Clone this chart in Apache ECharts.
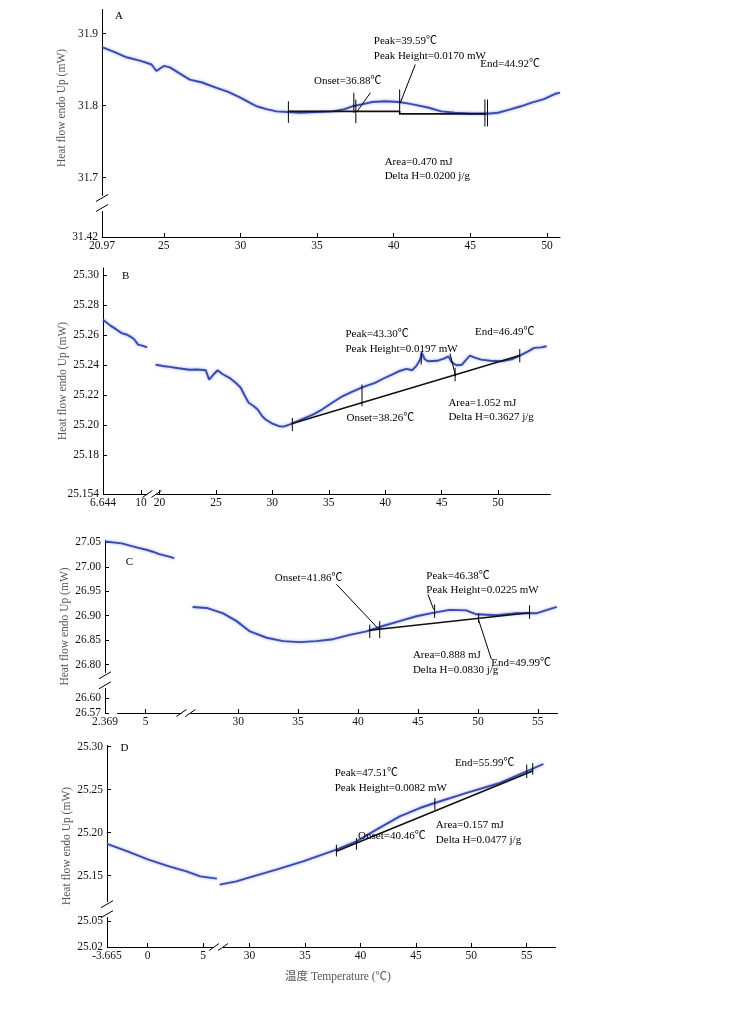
<!DOCTYPE html>
<html><head><meta charset="utf-8">
<script src="https://cdn.jsdelivr.net/npm/echarts@6/dist/echarts.min.js"></script>
<style>html,body{margin:0;padding:0;background:#fff}#c{width:756px;height:1010px}</style>
</head><body><div id="c"></div>
<script>
// ---------------- Panel A ----------------
const aTemp = [20.97,21.8,22.57,23.5,24.2,24.52,25.0,25.4,26.0,26.7,27.5,28.4,29.2,30.0,30.6,31.05,31.7,32.35,33.1,33.9,35.0,36.0,36.8,37.3,38.0,38.6,39.5,40.3,40.9,41.4,42.3,43.1,44.0,45.0,45.7,46.3,46.8,47.5,48.3,49.0,49.8,50.5,50.85];
const aHF = [31.881,31.874,31.867,31.862,31.857,31.848,31.855,31.853,31.845,31.836,31.832,31.825,31.819,31.811,31.804,31.799,31.795,31.792,31.791,31.790,31.791,31.792,31.795,31.799,31.802,31.805,31.806,31.805,31.803,31.801,31.797,31.792,31.790,31.789,31.789,31.789,31.790,31.794,31.799,31.804,31.809,31.816,31.818];
const aBaseline = [[33.13,31.792],[40.39,31.792],[40.39,31.7885],[46.05,31.7885]];
const aSegs = [[[33.13,31.806],[33.13,31.776]],[[37.40,31.8178],[37.40,31.7898]],[[37.53,31.8084],[37.53,31.7758]],[[40.39,31.8224],[40.39,31.7874]],[[45.95,31.8084],[45.95,31.771]],[[46.12,31.8084],[46.12,31.771]],[[38.48,31.8178],[37.62,31.792]],[[41.41,31.857],[40.43,31.8038]]];
const aNotes = [['A',21.81,31.924],['Peak=39.59\u2103',38.70,31.8895],['Peak Height=0.0170 mW',38.70,31.8685],['End=44.92\u2103',45.65,31.857],['Onset=36.88\u2103',34.80,31.8336],['Area=0.470 mJ',39.41,31.7217],['Delta H=0.0200 j/g',39.41,31.702]];
const aXTicks = ['20.97','25','30','35','40','45','50'];
const aYTicks = ['31.42','31.7','31.8','31.9'];

// ---------------- Panel B ----------------
const bLeftTemp = [6.644,7.3,7.86,8.3,8.78,9.1,9.39,9.75,10.2,10.55];
const bLeftHF = [25.2704,25.2665,25.2638,25.2615,25.2604,25.2590,25.2576,25.2538,25.2530,25.2520];
const bRightTemp = [19.65,20.3,20.88,21.7,22.65,23.4,24.1,24.4,24.8,25.15,25.6,26.2,26.8,27.2,27.6,27.9,28.3,28.7,29.1,29.4,30.0,30.6,31.0,31.5,32.2,32.9,33.6,34.4,35.3,36.2,37.0,37.9,38.5,39.1,39.8,40.6,41.2,41.9,42.4,42.8,43.1,43.25,43.5,43.8,44.6,45.2,45.6,45.9,46.3,46.8,47.2,47.5,48.0,48.5,49.3,50.3,51.2,52.1,52.7,53.2,53.8,54.3];
const bRightHF = [25.2404,25.2395,25.2389,25.2380,25.2370,25.2372,25.2367,25.2304,25.2340,25.2367,25.2340,25.2316,25.2280,25.2250,25.2190,25.2150,25.2130,25.2104,25.2060,25.2038,25.2010,25.1993,25.1990,25.2004,25.2025,25.2049,25.2070,25.2104,25.2150,25.2193,25.2220,25.2250,25.2268,25.2282,25.2310,25.2338,25.2360,25.2376,25.2367,25.2400,25.2438,25.2482,25.2440,25.2427,25.2430,25.2445,25.2460,25.2420,25.2400,25.2404,25.2440,25.2464,25.2450,25.2438,25.2430,25.2427,25.2440,25.2471,25.2495,25.2516,25.2520,25.2527];
const bBaseline = [[31.77,25.2011],[51.92,25.2465]];
const bSegs = [[[31.77,25.2049],[31.77,25.196]],[[37.94,25.2271],[37.94,25.2127]],[[43.19,25.2493],[43.19,25.2405]],[[46.19,25.2383],[46.19,25.2293]],[[45.74,25.2478],[46.24,25.2327]],[[51.92,25.2509],[51.92,25.242]]];
const bNotes = [['B',8.32,25.2993],['Peak=43.30\u2103',36.48,25.2605],['Peak Height=0.0197 mW',36.48,25.2511],['End=46.49\u2103',47.95,25.262],['Onset=38.26\u2103',36.57,25.2045],['Area=1.052 mJ',45.6,25.2145],['Delta H=0.3627 j/g',45.6,25.2051]];
const bXTicks = ['6.644','10','20','25','30','35','40','45','50'];
const bYTicks = ['25.154','25.18','25.20','25.22','25.24','25.26','25.28','25.30'];

// ---------------- Panel C ----------------
const cLeftTemp = [2.369,3.0,3.77,4.4,5.06,5.6,6.13,6.8,7.38];
const cLeftHF = [27.052,27.048,27.043,27.039,27.035,27.031,27.026,27.022,27.018];
const cRightTemp = [26.2,27.37,28.75,29.87,30.98,32.37,33.75,35.14,36.53,37.92,39.31,40.7,42.08,43.47,44.87,46.25,47.64,49.03,49.87,51.53,53.2,54.87,56.58];
const cRightHF = [26.918,26.916,26.905,26.889,26.868,26.855,26.848,26.846,26.848,26.852,26.861,26.868,26.879,26.889,26.899,26.906,26.912,26.911,26.903,26.901,26.905,26.905,26.918];
const cBaseline = [[40.98,26.8704],[54.31,26.906]];
const cSegs = [[[40.98,26.882],[40.98,26.8545]],[[41.81,26.889],[41.81,26.8545]],[[46.39,26.9232],[46.39,26.8957]],[[50.06,26.9047],[50.06,26.8854]],[[54.31,26.9212],[54.31,26.8936]],[[38.2,26.9644],[41.81,26.8704]],[[50.0,26.8957],[51.12,26.8113]],[[45.83,26.9438],[46.31,26.913]]];
const cNotes = [['C',3.34,27.0103],['Onset=41.86\u2103',33.06,26.9767],['Peak=46.38\u2103',45.7,26.9815],['Peak Height=0.0225 mW',45.7,26.952],['Area=0.888 mJ',44.58,26.819],['Delta H=0.0830 j/g',44.58,26.7895],['End=49.99\u2103',51.12,26.803]];
const cXTicks = ['2.369','5','30','35','40','45','50','55'];
const cYTicks = ['26.57','26.60','26.80','26.85','26.90','26.95','27.00','27.05'];

// ---------------- Panel D ----------------
const dLeftTemp = [-3.665,-1.81,0.07,1.94,3.5,4.75,6.25];
const dLeftHF = [25.1869,25.1783,25.1686,25.1608,25.155,25.1492,25.1465];
const dRightTemp = [27.29,28.8,30.0,32.41,34.82,37.83,39.64,41.44,43.55,45.35,46.7,49.58,52.58,55.0,56.5];
const dRightHF = [25.1395,25.1434,25.148,25.157,25.1666,25.1802,25.1899,25.2035,25.219,25.2287,25.2345,25.2462,25.2578,25.2713,25.2799];
const dBaseline = [[37.83,25.1783],[55.59,25.2721]];
const dSegs = [[[37.83,25.186],[37.83,25.1724]],[[39.64,25.1938],[39.64,25.1802]],[[46.71,25.2403],[46.71,25.2267]],[[55.0,25.2791],[55.0,25.2636]],[[55.54,25.281],[55.54,25.2674]]];
const dNotes = [['D',-2.44,25.2985],['End=55.99\u2103',48.52,25.281],['Peak=47.51\u2103',37.68,25.2694],['Peak Height=0.0082 mW',37.68,25.252],['Area=0.157 mJ',46.8,25.2093],['Delta H=0.0477 j/g',46.8,25.1919],['Onset=40.46\u2103',39.78,25.1957]];
const dXTicks = ['-3.665','0','5','30','35','40','45','50','55'];
const dYTicks = ['25.02','25.05','25.15','25.20','25.25','25.30'];

const yName = 'Heat flow endo Up (mW)';
const xName = '\u6e29\u5ea6 Temperature (\u2103)';

// ---------------- layout / style ----------------
const FONT = '"Liberation Serif","Times New Roman","Noto Sans CJK SC",serif';
const CURVE = '#3a4bb0';
const zip = (xs, ys) => xs.map((x, k) => [x, ys[k]]);

// xb = visible broken-axis break (marked with //); xs = unmarked scale stretch of the original figure
const panels = [
  {grid:{left:102,top:9,width:458,height:228}, xr:[20.97,50.85], yr:[31.42,31.934], xb:null, xs:null, yb:{start:31.456,end:31.676,gap:0.0224},
   xt:aXTicks, yt:aYTicks, curves:[zip(aTemp,aHF)], base:aBaseline, segs:aSegs, notes:aNotes, namePad:30},
  {grid:{left:103,top:268,width:447,height:226}, xr:[6.644,54.6], yr:[25.154,25.305], xb:{start:10.7,end:19.6,gap:0.55}, xs:null, yb:null,
   xt:bXTicks, yt:bYTicks, curves:[zip(bLeftTemp,bLeftHF),zip(bRightTemp,bRightHF)], base:bBaseline, segs:bSegs, notes:bNotes, namePad:0},
  {grid:{left:105,top:540,width:452,height:173}, xr:[2.369,56.6], yr:[26.57,27.055], xb:{start:8.0,end:26.0,gap:0.72}, xs:{start:2.6,end:2.61,gap:0.77}, yb:{start:26.62,end:26.785,gap:0.034},
   xt:cXTicks, yt:cYTicks, curves:[zip(cLeftTemp,cLeftHF),zip(cRightTemp,cRightHF)], base:cBaseline, segs:cSegs, notes:cNotes, namePad:0},
  {grid:{left:107,top:745,width:448,height:202}, xr:[-3.665,57.55], yr:[25.02,25.302], xb:{start:6.3,end:27.3,gap:0.2}, xs:null, yb:{start:25.055,end:25.12,gap:0.018},
   xt:dXTicks, yt:dYTicks, curves:[zip(dLeftTemp,dLeftHF),zip(dRightTemp,dRightHF)], base:dBaseline, segs:dSegs, notes:dNotes, namePad:0, xName:xName}
];

function pickLabel(labels) {
  return function (v) {
    let best = labels[0], bd = Infinity;
    for (const s of labels) { const d = Math.abs(parseFloat(s) - v); if (d < bd) { bd = d; best = s; } }
    return best;
  };
}

const option = {animation:false, backgroundColor:'#fff', grid:[], xAxis:[], yAxis:[], series:[]};

panels.forEach((p, i) => {
  option.grid.push(Object.assign({outerBoundsMode:'none', containLabel:false}, p.grid));
  const xa = {
    type:'value', gridIndex:i, min:p.xr[0], max:p.xr[1],
    axisLine:{show:true, onZero:false, lineStyle:{color:'#000', width:1}},
    axisTick:{show:true, inside:true, length:4, customValues:p.xt.map(Number), lineStyle:{color:'#000'}},
    axisLabel:{customValues:p.xt.map(Number), formatter:pickLabel(p.xt), color:'#111', fontFamily:FONT, fontSize:11.5, margin:3},
    splitLine:{show:false}
  };
  const xbr = [];
  if (p.xs) xbr.push(p.xs);
  if (p.xb) xbr.push(p.xb);
  if (xbr.length) { xa.breaks = xbr; xa.breakArea = {show:false}; }
  if (p.xName) {
    xa.name = p.xName; xa.nameLocation = 'middle'; xa.nameGap = 24; xa.nameMoveOverlap = false;
    xa.nameTextStyle = {color:'#555', fontFamily:FONT, fontSize:11.5, padding:[0,0,0,14]};
  }
  option.xAxis.push(xa);
  const ya = {
    type:'value', gridIndex:i, min:p.yr[0], max:p.yr[1],
    axisLine:{show:true, onZero:false, lineStyle:{color:'#000', width:1}},
    axisTick:{show:true, inside:true, length:4, customValues:p.yt.map(Number), lineStyle:{color:'#000'}},
    axisLabel:{customValues:p.yt.map(Number), formatter:pickLabel(p.yt), color:'#111', fontFamily:FONT, fontSize:11.5, margin:4},
    splitLine:{show:false},
    name:yName, nameLocation:'middle', nameRotate:90, nameGap:34, nameMoveOverlap:false,
    nameTextStyle:{color:'#555', fontFamily:FONT, fontSize:11.5, padding:[0,0,0,p.namePad]}
  };
  if (p.yb) { ya.breaks = [p.yb]; ya.breakArea = {show:false}; }
  option.yAxis.push(ya);

  p.curves.forEach(c => option.series.push({
    type:'line', xAxisIndex:i, yAxisIndex:i, data:c, symbol:'none', z:3,
    lineStyle:{color:CURVE, width:1.9, shadowColor:'rgba(80,100,210,0.6)', shadowBlur:3}
  }));
  option.series.push({
    type:'line', xAxisIndex:i, yAxisIndex:i, data:p.base, symbol:'none', z:4,
    lineStyle:{color:'#111', width:1.6}
  });
  option.series.push({
    type:'custom', xAxisIndex:i, yAxisIndex:i, z:5, silent:true,
    data:p.segs.map(s => [s[0][0], s[0][1], s[1][0], s[1][1]]),
    encode:{x:[0,2], y:[1,3]},
    renderItem:(params, api) => {
      const p1 = api.coord([api.value(0), api.value(1)]);
      const p2 = api.coord([api.value(2), api.value(3)]);
      return {type:'line', shape:{x1:p1[0], y1:p1[1], x2:p2[0], y2:p2[1]}, style:{stroke:'#000', lineWidth:1}};
    }
  });
  const notes = p.notes;
  option.series.push({
    type:'custom', xAxisIndex:i, yAxisIndex:i, z:6, silent:true,
    data:notes.map((n, k) => [n[1], n[2], k]),
    encode:{x:0, y:1},
    renderItem:(params, api) => {
      const pt = api.coord([api.value(0), api.value(1)]);
      return {type:'text', x:pt[0], y:pt[1],
        style:{text:notes[api.value(2)][0], fill:'#000', font:'11px ' + FONT, align:'left', verticalAlign:'middle'}};
    }
  });
});

const chart = echarts.init(document.getElementById('c'), null, {renderer:'canvas'});
chart.setOption(option);

// break marks (double slashes) placed through the axes' own scales
const gfx = [];
panels.forEach((p, i) => {
  if (p.xb) {
    const a = chart.convertToPixel({xAxisIndex:i}, p.xb.start);
    const b = chart.convertToPixel({xAxisIndex:i}, p.xb.end);
    const y = chart.convertToPixel({yAxisIndex:i}, p.yr[0]);
    const cx = (a + b) / 2;
    gfx.push({type:'rect', z:100, shape:{x:cx-4.5, y:y-2, width:9, height:4}, style:{fill:'#fff'}});
    [-4.5, 4.5].forEach(d => gfx.push({type:'line', z:101, shape:{x1:cx+d-5, y1:y+3.5, x2:cx+d+5, y2:y-3.5}, style:{stroke:'#000', lineWidth:1}}));
  }
  if (p.yb) {
    const a = chart.convertToPixel({yAxisIndex:i}, p.yb.start);
    const b = chart.convertToPixel({yAxisIndex:i}, p.yb.end);
    const x = chart.convertToPixel({xAxisIndex:i}, p.xr[0]);
    const cy = (a + b) / 2;
    gfx.push({type:'rect', z:100, shape:{x:x-2, y:cy-5, width:4, height:10}, style:{fill:'#fff'}});
    [-5, 5].forEach(d => gfx.push({type:'line', z:101, shape:{x1:x-6, y1:cy+d+3.5, x2:x+6, y2:cy+d-3.5}, style:{stroke:'#000', lineWidth:1}}));
  }
});
chart.setOption({graphic:gfx});
</script></body></html>
